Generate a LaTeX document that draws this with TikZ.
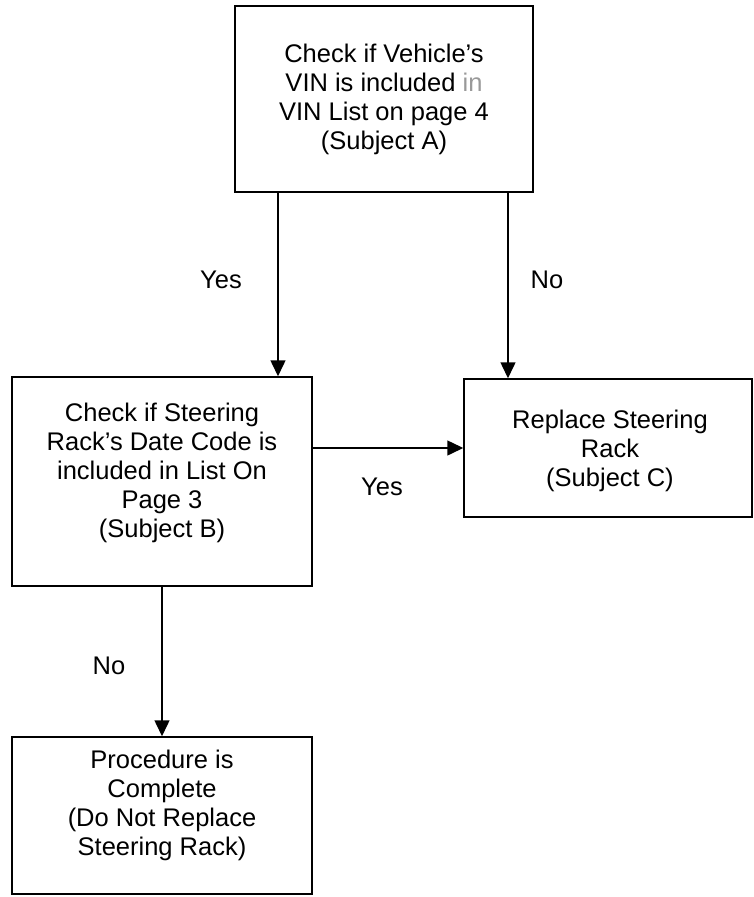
\documentclass[tikz,border=0pt]{standalone}
\usepackage{fontspec}
\setmainfont{Liberation Sans}
\usetikzlibrary{arrows.meta}
\begin{document}
\begin{tikzpicture}[x=1pt,y=-1pt,
  box/.style={draw, line width=1.5pt, inner sep=0pt},
  txt/.style={align=center, inner sep=0pt, font=\fontsize{25.5}{29}\selectfont},
  lbl/.style={inner sep=0pt, font=\fontsize{25.5}{29}\selectfont},
  arr/.style={line width=1.5pt, -{Triangle[length=16pt,width=15pt]}}]
\useasboundingbox (0,0) rectangle (753,897);
\node[box, minimum width=298pt, minimum height=186pt] (A) at (384,99) {};
\node[box, minimum width=300pt, minimum height=209pt] (B) at (162,481.5) {};
\node[box, minimum width=288pt, minimum height=138pt] (C) at (608,448) {};
\node[box, minimum width=300pt, minimum height=157pt] (D) at (162,815.5) {};
\node[txt] (tA) at (384,99) {Check if Vehicle’s\\VIN is included {\color{black!40}in}\\VIN List on page 4\\(Subject A)};
\node[txt] (tB) at (162,473) {Check if Steering\\Rack’s Date Code is\\included in List On\\Page 3\\(Subject B)};
\node[txt] (tC) at (610,451) {Replace Steering\\Rack\\(Subject C)};
\node[txt] (tD) at (162,805) {Procedure is\\Complete\\(Do Not Replace\\Steering Rack)};
\node[lbl] (l1) at (221,280) {Yes};
\node[lbl] (l2) at (547,280) {No};
\node[lbl] (l3) at (382,487) {Yes};
\node[lbl] (l4) at (109,666) {No};
\draw[arr] ([xshift=-106pt]A.south) -- ([xshift=116pt]B.north);
\draw[arr] ([xshift=124pt]A.south) -- ([xshift=-100pt]C.north);
\draw[arr] (B.east |- C.west) -- (C.west);
\draw[arr] (B.south) -- (D.north);
\end{tikzpicture}
\end{document}
